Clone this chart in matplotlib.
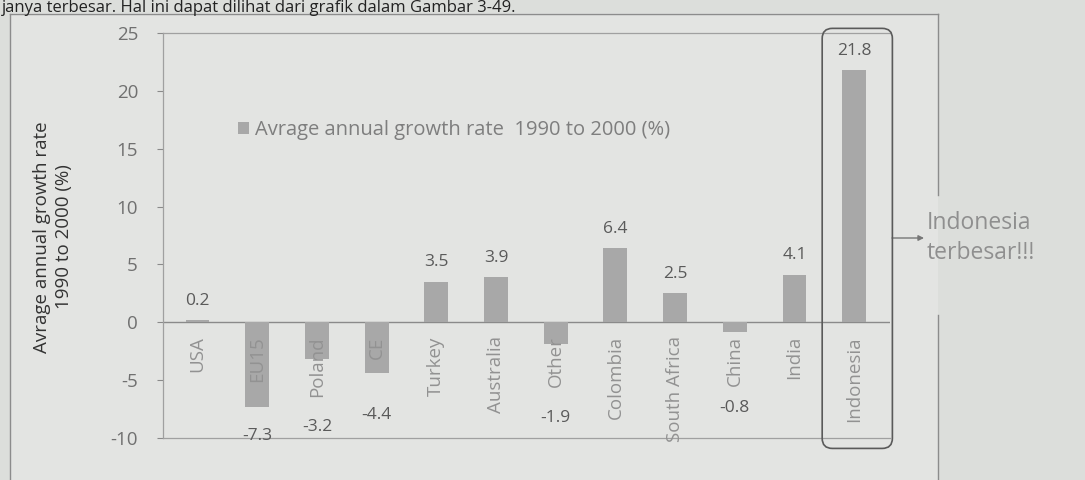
import matplotlib
matplotlib.use('Agg')
import matplotlib.pyplot as plt
from matplotlib.patches import FancyBboxPatch, Rectangle
from matplotlib.lines import Line2D

# ---- data ----
categories = ['USA', 'EU15', 'Poland', 'CE', 'Turkey', 'Australia', 'Other',
              'Colombia', 'South Africa', 'China', 'India', 'Indonesia']
growth = [0.2, -7.3, -3.2, -4.4, 3.5, 3.9, -1.9, 6.4, 2.5, -0.8, 4.1, 21.8]
yticks = [-10, -5, 0, 5, 10, 15, 20, 25]
series_name = 'Avrage annual growth rate  1990 to 2000 (%)'
ylabel = 'Avrage annual growth rate\n1990 to 2000 (%)'
callout = 'Indonesia\nterbesar!!!'
page_text = 'janya terbesar. Hal ini dapat dilihat dari grafik dalam Gambar 3-49.'
highlight = 'Indonesia'

# ---- style ----
plt.rcParams['font.family'] = ['Open Sans', 'DejaVu Sans']
W, H = 1085, 480
pos_label_offset = 14          # points above bar end
neg_label_offsets = {'EU15': -21, 'Poland': -49, 'CE': -30, 'Other': -53, 'China': -55}

fig = plt.figure(figsize=(W / 100, H / 100), dpi=100, facecolor='#dcdedb')

# chart area background
fig.add_artist(Rectangle((10 / W, 0), (938 - 10) / W, 1 - 13 / H,
                         transform=fig.transFigure, facecolor='#e3e4e2',
                         edgecolor='none', zorder=0))

ax = fig.add_axes([163 / W, 1 - 438 / H, (890 - 163) / W, (438 - 33) / H])
ax.set_facecolor('none')

x = list(range(len(categories)))
bars = ax.bar(x, growth, width=0.4, color='#a8a8a8', zorder=2)

ax.set_xlim(-0.578, 11.6)
ax.set_ylim(-10, 25)
ax.set_yticks(yticks)
ax.set_yticklabels([str(t) for t in yticks])
ax.set_xticks([])
for s in ['left', 'top', 'bottom']:
    ax.spines[s].set_color('#a0a0a0')
    ax.spines[s].set_linewidth(0.9)
ax.spines['right'].set_visible(False)
ax.axhline(0, color='#8a8a8a', lw=1.0, zorder=1)
ax.tick_params(axis='y', direction='out', length=4, color='#8a8a8a',
               labelcolor='#707070', labelsize=13.5, pad=14)

# category labels
for i, c in enumerate(categories):
    ax.text(i, -1.2, c, rotation=90, ha='center', va='top', fontsize=13.5,
            color='#929292', zorder=3)

# value labels
for i, (c, v) in enumerate(zip(categories, growth)):
    off = pos_label_offset if v >= 0 else neg_label_offsets.get(c, -14)
    ax.annotate(f'{v}', (i, v), xytext=(0, off), textcoords='offset points',
                ha='center', va='center', fontsize=12.5, color='#5a5a5a', zorder=3)

# legend
ax.legend([bars], [series_name], loc='center left',
          bbox_to_anchor=((228 - 163) / 727, (438 - 130) / 405),
          frameon=False, handlelength=0.55, handleheight=0.55, handletextpad=0.3,
          borderpad=0, fontsize=14.5, labelcolor='#7e7e7e')

# y label
fig.text(53 / W, 1 - 237 / H, ylabel, rotation=90, ha='center', va='center',
         fontsize=13.5, color='#333333', multialignment='center', linespacing=1.35)

# highlight box around Indonesia
hi = categories.index(highlight)
box = FancyBboxPatch((hi - 0.536, -10.9), 1.176, 36.3,
                     boxstyle='round,pad=0,rounding_size=0.17', mutation_aspect=5.16,
                     facecolor='none', edgecolor='#5a5a5a', lw=1.2,
                     transform=ax.transData, clip_on=False, zorder=4)
ax.add_patch(box)

# arrow and callout
ax.annotate('', xy=(924, H - 238), xytext=(892, H - 238),
            xycoords='figure pixels', textcoords='figure pixels',
            arrowprops=dict(arrowstyle='-|>', color='#777777', lw=1.0,
                            mutation_scale=8, shrinkA=0, shrinkB=0))
fig.text(927 / W, 1 - 238 / H, callout, ha='left', va='center', fontsize=16.5,
         color='#8f8f8f', linespacing=1.3)

# chart border
border_kw = dict(color='#8c8c8c', lw=1.0, transform=fig.transFigure)
fig.add_artist(Line2D([10 / W, 10 / W], [0, 1 - 14 / H], **border_kw))
fig.add_artist(Line2D([10 / W, 938 / W], [1 - 14 / H, 1 - 14 / H], **border_kw))
fig.add_artist(Line2D([938 / W, 938 / W], [1 - 14 / H, 1 - 195 / H], **border_kw))
fig.add_artist(Line2D([938 / W, 938 / W], [1 - 315 / H, 0], **border_kw))

# page text at the very top
fig.text(2 / W, 1 - 0.5 / H, page_text, ha='left', va='top', fontsize=12,
         color='#222222')

fig.savefig('out.png', dpi=100, facecolor=fig.get_facecolor())
